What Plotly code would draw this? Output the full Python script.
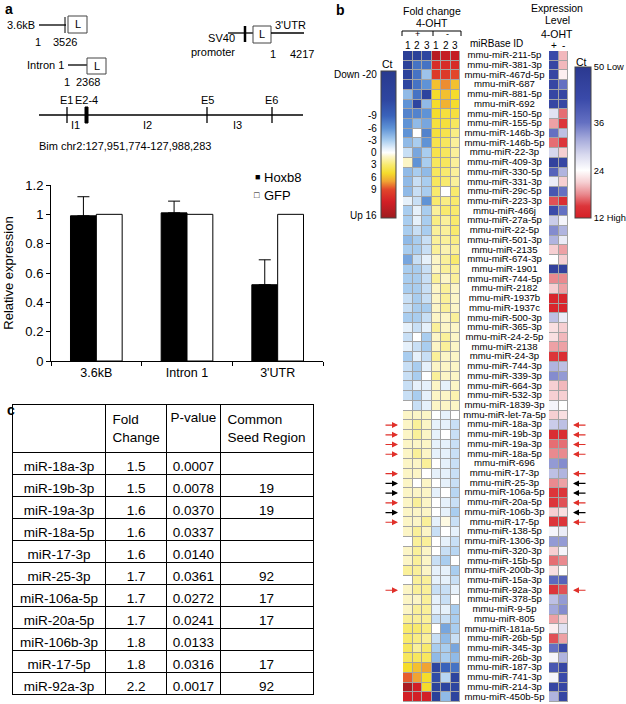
import plotly.graph_objects as go

W, H = 626, 704
FONT = 'Liberation Sans, Arial, sans-serif'

# ---- panel a: luciferase reporter assay ----
constructs = ['3.6kB', 'Intron 1', "3'UTR"]
hoxb8 = [0.99, 1.01, 0.52]
hoxb8_err = [0.13, 0.08, 0.17]
gfp = [1.0, 1.0, 1.0]
exon_labels = ['E1', 'E2-4', 'E5', 'E6']
intron_labels = ['I1', 'I2', 'I3']

# ---- panel b: miRNA array ----
mirna_ids = [
    'mmu-miR-211-5p', 'mmu-miR-381-3p', 'mmu-miR-467d-5p', 'mmu-miR-687', 'mmu-miR-881-5p',
    'mmu-miR-692', 'mmu-miR-150-5p', 'mmu-miR-155-5p', 'mmu-miR-146b-3p', 'mmu-miR-146b-5p',
    'mmu-miR-22-3p', 'mmu-miR-409-3p', 'mmu-miR-330-5p', 'mmu-miR-331-3p', 'mmu-miR-29c-5p',
    'mmu-miR-223-3p', 'mmu-miR-466j', 'mmu-miR-27a-5p', 'mmu-miR-22-5p', 'mmu-miR-501-3p',
    'mmu-miR-2135', 'mmu-miR-674-3p', 'mmu-miR-1901', 'mmu-miR-744-5p', 'mmu-miR-2182',
    'mmu-miR-1937b', 'mmu-miR-1937c', 'mmu-miR-500-3p', 'mmu-miR-365-3p', 'mmu-miR-24-2-5p',
    'mmu-miR-2138', 'mmu-miR-24-3p', 'mmu-miR-744-3p', 'mmu-miR-339-3p', 'mmu-miR-664-3p',
    'mmu-miR-532-3p', 'mmu-miR-1839-3p', 'mmu-miR-let-7a-5p', 'mmu-miR-18a-3p', 'mmu-miR-19b-3p',
    'mmu-miR-19a-3p', 'mmu-miR-18a-5p', 'mmu-miR-696', 'mmu-miR-17-3p', 'mmu-miR-25-3p',
    'mmu-miR-106a-5p', 'mmu-miR-20a-5p', 'mmu-miR-106b-3p', 'mmu-miR-17-5p', 'mmu-miR-138-5p',
    'mmu-miR-1306-3p', 'mmu-miR-320-3p', 'mmu-miR-15b-5p', 'mmu-miR-200b-3p', 'mmu-miR-15a-3p',
    'mmu-miR-92a-3p', 'mmu-miR-378-5p', 'mmu-miR-9-5p', 'mmu-miR-805', 'mmu-miR-181a-5p',
    'mmu-miR-26b-5p', 'mmu-miR-345-3p', 'mmu-miR-26b-3p', 'mmu-miR-187-3p', 'mmu-miR-741-3p',
    'mmu-miR-214-3p', 'mmu-miR-450b-5p',
]
# fold change (Ct), columns: +1 +2 +3 -1 -2 -3
fold_change = [
    [-17, -16, -13, 14, 13, 13], [-16, -8, -8, 11, 11, 11], [-15, -8, -3.5, 10, 10, 9],
    [-13, -8, -6, 6, 7.5, 6], [-4, -8, -14, 5, 6, 5], [-6, -13, -4, 5, 6.5, 5],
    [-7, -7, -6, 5, 4.5, 4.5], [-6, -4, -5, 4.5, 4.5, 3.5], [-6, 0, -7, 4.5, 4, 2.5],
    [-4, -3, -6, 4, 3.5, 2], [-2, -5, -3, 4, 3.5, 2], [1, -6, -3, 3.5, 3.5, 2],
    [-4, -3, -4, 3.5, 3, 2], [-4, -2, -3, 3.5, 3, 2], [-4, -2, -3, 3, 0, 3],
    [-1, -2, -6, 3, 2.5, 3], [-3, -1, -3, 2, 3, 3], [-3, -1, -3, 2.5, 2, 3],
    [-3, -2, -3, 2, 2, 3], [-4, -3, -2, 2, 2, 2.5], [-3, -3, -2, 2, 1.5, 2],
    [-5, -2, -1, 1, 2, 3], [-3, -3, -2, 1, 2, 2], [-3, -3, -2, 2, 1, 2],
    [-3, -3, -2, 1, 2, 1], [-2, -3, -2, 1, 2, 1], [-2, -3, -3, 1, 2, 1],
    [-3, -3, -2, 1, 1, 2], [-1, -2, -1, 2, 1, 1], [-2, 0, -3, 1, 2, 1],
    [-1, -2, -3, 1, 2, 1], [-3, -1, -2, 2, 1, 1], [-2, -3, -1, 1, 1, 1],
    [-2, -3, 0, 2, 1, 1], [-2, -1, -1, 1, -1, 1], [-2, -3, -1, 1, 1, 1.5],
    [0, -2, -1, 1, 1, 1], [1, 1, 1, 0, -1, 0], [1, 2, 1, -1, -1, -2],
    [1, 2, 1, -1, 0, -2], [1, 1, 1, -1, -1, -2], [1, 2, 1, -1, -1, -2],
    [1, 1, 2, 0, -1, -2], [1, 1, 0, -1, -1, -2], [1, 0, 1, 0, -1, -2],
    [1, 1, 1, -1, 0, -2.5], [1, 2, 1, 0, -1, -2], [1, 1, 1, 0, -1, -3],
    [1, 1, 2, -1, 0.5, -2], [1, 2, 1, -2, 0, -1], [0, 2, 2, 0, -1, -2],
    [1, 2, 1, 0, -2, -2.5], [1, 2, 1, -2, -3, 0], [2, 2, 1, -1, -1, -3],
    [0, 2, 2, -1, -1, -2], [1, 2, 2, -2, -2, -1], [1, 1, 2, -1, -2, 0],
    [1, 2, 2, -1, -1, -3], [2, 2, 2, -2, -2, -3], [3, 3, 2.5, 0, -5, -3],
    [3, 2.5, 2, -2, -4, -2], [3.5, 2, 3, -3, -3, -5], [3.5, 3.5, 3.5, -4, -3, -4],
    [5, 6, 7, -13, -9, -8], [8.5, 7, 5, -12, -2.5, -14], [15, 12, 5, -15, -13, -13],
    [12, 12, 12, -16, -4, -14],
]
# expression level (Ct), columns: + -
expression = [
    [42, 20], [44, 20], [44, 23], [44, 36], [44, 44], [44, 44], [27, 17], [19, 15],
    [36, 30], [17, 15], [28, 21], [46, 44], [38, 31], [26, 21], [40, 36], [16, 14],
    [42, 36], [29, 25], [34, 31], [31, 26], [21, 19], [24, 21], [46, 46], [18, 18],
    [21, 19], [13, 13], [13, 13], [30, 26], [22, 21], [22, 20], [19, 19], [15, 14],
    [31, 30], [34, 33], [21, 20], [21, 21], [25, 24], [21, 22], [29, 30], [14, 14],
    [17, 17], [18, 18], [33, 34], [30, 31], [18, 19], [15, 15], [15, 16], [21, 22],
    [15, 15], [25, 26], [33, 33], [21, 25], [17, 18], [22, 24], [37, 38], [15, 16],
    [30, 33], [32, 34], [19, 21], [23, 27], [16, 19], [36, 42], [25, 31], [40, 44],
    [25, 42], [44, 44], [31, 44],
]
red_arrows = ['mmu-miR-18a-3p', 'mmu-miR-19b-3p', 'mmu-miR-19a-3p', 'mmu-miR-18a-5p',
              'mmu-miR-17-3p', 'mmu-miR-20a-5p', 'mmu-miR-17-5p', 'mmu-miR-92a-3p']
black_arrows = ['mmu-miR-25-3p', 'mmu-miR-106a-5p', 'mmu-miR-106b-3p']
fc_columns = ['1', '2', '3', '1', '2', '3']
expr_columns = ['+', '-']
fc_ticks = [-9, -6, -3, 0, 3, 6, 9]
ct_ticks = [50, 36, 24, 12]
ct_text = ['50 Low', '36', '24', '12 High']

# ---- panel c: table ----
table_mirs = ['miR-18a-3p', 'miR-19b-3p', 'miR-19a-3p', 'miR-18a-5p', 'miR-17-3p', 'miR-25-3p',
              'miR-106a-5p', 'miR-20a-5p', 'miR-106b-3p', 'miR-17-5p', 'miR-92a-3p']
table_fold = [1.5, 1.5, 1.6, 1.6, 1.6, 1.7, 1.7, 1.7, 1.8, 1.8, 2.2]
table_pval = ['0.0007', '0.0078', '0.0370', '0.0337', '0.0140', '0.0361', '0.0272', '0.0241',
              '0.0133', '0.0316', '0.0017']
table_seed = ['', '19', '19', '', '', '92', '17', '17', '', '17', '92']

fc_min, fc_max = -20, 16
fc_stops = [(-20, '#283a8f'), (-13, '#2e46a0'), (-9, '#3a63bb'), (-6, '#5f93d6'), (-3, '#a9cdef'),
            (-1, '#e6f1fb'), (0, '#ffffff'), (1, '#fcf5c6'), (3, '#f8ea6e'), (5, '#f5dc2c'),
            (7, '#f0a433'), (9, '#e2472b'), (12, '#d21f26'), (16, '#9e1b1f')]
fc_scale = [[(v - fc_min) / (fc_max - fc_min), c] for v, c in fc_stops]
fc_scale_rev = [[1 - f, c] for f, c in reversed(fc_scale)]
ct_min, ct_max = 12, 50
ct_stops = [(12, '#d61f26'), (15, '#dc353a'), (18, '#e98a8f'), (21, '#f6cfd2'), (24, '#ffffff'),
            (28, '#d7d8ee'), (32, '#a3a8da'), (36, '#6470c2'), (42, '#3a4aa9'), (50, '#2b3990')]
ct_scale = [[(v - ct_min) / (ct_max - ct_min), c] for v, c in ct_stops]


def px(x):
    return x / W


def py(y):
    return 1 - y / H


shapes = []
annotations = []


def seg(x0, y0, x1, y1, w=1.3, color='black'):
    shapes.append(dict(type='line', xref='paper', yref='paper', x0=px(x0), y0=py(y0),
                       x1=px(x1), y1=py(y1), line=dict(color=color, width=w)))


def box(x0, y0, x1, y1, fill='white', lc='#444'):
    shapes.append(dict(type='rect', xref='paper', yref='paper', x0=px(x0), y0=py(y0),
                       x1=px(x1), y1=py(y1), fillcolor=fill, line=dict(color=lc, width=1)))


def label(x, y, text, size=11, anchor='center', bold=False, xref='paper'):
    if bold:
        text = '<b>' + text + '</b>'
    annotations.append(dict(xref=xref, yref='paper', x=px(x) if xref == 'paper' else x, y=py(y), text=text,
                            showarrow=False, xanchor=anchor, yanchor='middle',
                            font=dict(size=size, color='black', family=FONT)))


fig = go.Figure()

# bar chart
fig.add_trace(go.Bar(x=constructs, y=hoxb8, name='Hoxb8', marker=dict(color='black', line=dict(color='black', width=1)),
                     error_y=dict(type='data', array=hoxb8_err, arrayminus=[0, 0, 0], symmetric=False,
                                  color='black', thickness=1, width=6)))
fig.add_trace(go.Bar(x=constructs, y=gfp, name='GFP', marker=dict(color='white', line=dict(color='black', width=1))))

# fold change heatmap
rows = list(range(len(mirna_ids)))
fig.add_trace(go.Heatmap(z=fold_change, x=list(range(6)), y=rows, colorscale=fc_scale, zmin=fc_min, zmax=fc_max,
                         xgap=1, ygap=1, showscale=False, xaxis='x3', yaxis='y3'))
# colorbar for fold change (top = down)
fig.add_trace(go.Scatter(x=[0], y=[0], mode='markers', xaxis='x3', yaxis='y3', hoverinfo='skip',
                         marker=dict(color=[0], colorscale=fc_scale_rev, cmin=-fc_max, cmax=-fc_min, opacity=0,
                                     showscale=True,
                                     colorbar=dict(x=px(381), xanchor='left', y=py(71), yanchor='top',
                                                   len=147, lenmode='pixels', thickness=15, xpad=0, ypad=0,
                                                   showticklabels=False, ticks='', outlinewidth=1,
                                                   outlinecolor='#444')),
                         showlegend=False))
# labels
fig.add_trace(go.Scatter(x=[0.5] * len(mirna_ids), y=rows, text=mirna_ids, mode='text', xaxis='x4', yaxis='y3',
                         textfont=dict(size=9.6, family=FONT, color='black'), hoverinfo='skip', showlegend=False))
# expression heatmap
fig.add_trace(go.Heatmap(z=expression, x=[0, 1], y=rows, colorscale=ct_scale, zmin=ct_min, zmax=ct_max,
                         xgap=1, ygap=1, xaxis='x5', yaxis='y3',
                         colorbar=dict(x=px(575), xanchor='left', y=py(67), yanchor='top', len=151,
                                       lenmode='pixels', thickness=16, xpad=0, ypad=0, tickvals=ct_ticks,
                                       ticktext=ct_text, ticks='', tickfont=dict(size=9.3, family=FONT),
                                       outlinewidth=1, outlinecolor='#444')))

# table
fig.add_trace(go.Table(
    domain=dict(x=[px(12), px(313)], y=[0, py(404)]),
    columnwidth=[93, 60, 53, 92],
    header=dict(values=['', 'Fold<br>Change', 'P-value', 'Common<br>Seed Region'], height=40,
                align='center', fill_color='white', line=dict(color='black', width=1),
                font=dict(family=FONT, size=13.5, color='black')),
    cells=dict(values=[table_mirs, table_fold, table_pval, table_seed], height=22, format=['', '.1f', '', ''],
               align='center', fill_color='white', line=dict(color='black', width=1),
               font=dict(family=FONT, size=13.5, color='black')),
))

# heatmap cell borders
for xr in ['x3', 'x5']:
    shapes.append(dict(type='rect', xref=xr + ' domain', yref='y3 domain', x0=0, x1=1, y0=0, y1=1,
                       fillcolor='#a4a4a4', line=dict(width=0), layer='below'))

# gene diagram (panel a)
label(37, 25, '3.6kB', anchor='right')
seg(39, 25, 66, 25)
seg(65, 17, 65, 33, w=1)
box(68, 16, 87, 33)
label(77.5, 24.5, 'L')
label(38, 42, '1')
label(65, 42, '3526')
label(66, 65, 'Intron 1', anchor='right')
seg(68, 65, 87, 65)
box(87, 58, 106, 74)
label(96.5, 66, 'L')
label(67, 82, '1')
label(88, 82, '2368')
seg(228, 33, 253, 33)
seg(245, 26, 245, 42, w=2.5)
box(253, 26, 271, 43)
label(262, 34.5, 'L')
seg(271, 33, 304, 33)
label(290, 25, "3'UTR")
annotations.append(dict(xref='paper', yref='paper', x=px(237), y=py(45), text='SV40<br>promoter',
                        showarrow=False, xanchor='right', yanchor='middle', align='right',
                        font=dict(size=11, color='black', family=FONT)))
label(273, 54, '1')
label(302, 54, '4217')
seg(39, 115, 303, 115)
for xe in [67, 207, 272]:
    seg(xe, 107, xe, 123)
box(85, 107, 88, 123, fill='black', lc='black')
for xe, t in zip([66, 86, 207, 271], exon_labels):
    label(xe, 100, t)
for xi, t in zip([75, 147, 237], intron_labels):
    label(xi, 125, t)
label(125, 146, 'Bim chr2:127,951,774-127,988,283')

# bar legend
label(257, 177, '■', size=9)
label(262, 177, 'Hoxb8', size=13, anchor='left')
label(257, 195, '□', size=9)
label(262, 195, 'GFP', size=13, anchor='left')

# panel letters
label(3, 9, 'a', size=14, anchor='left', bold=True)
label(334, 10, 'b', size=14, anchor='left', bold=True)
label(5, 410, 'c', size=14, anchor='left', bold=True)

# panel b headers
label(432, 11, 'Fold change', size=10.5)
label(432, 23, '4-OHT', size=10.5)
seg(402, 31, 461, 31, w=1)
for xb in [402, 433, 461]:
    seg(xb, 31, xb, 36, w=1)
label(417, 34.5, '+', size=9)
label(447, 34, '-', size=9)
for i, t in enumerate(fc_columns):
    label(i, 45.5, t, size=10, xref='x3')
for i, t in enumerate(expr_columns):
    label(i, 45.5, t, size=10, xref='x5')
label(496, 43.5, 'miRBase ID', size=10)
label(557, 8, 'Expression', size=10.5)
label(557, 20, 'Level', size=10.5)
label(557, 34, '4-OHT', size=10.5)
label(387, 64, 'Ct', size=10.5)
label(581, 62, 'Ct', size=10.5)
label(379, 74, 'Down -20', size=10, anchor='right')
label(379, 215, 'Up 16', size=10, anchor='right')
for v in fc_ticks:
    label(379, 71 + (v - fc_min) / (fc_max - fc_min) * 147, str(v), size=10, anchor='right')

# arrows
for name in red_arrows + black_arrows:
    color = '#e0302a' if name in red_arrows else 'black'
    r = mirna_ids.index(name)
    annotations.append(dict(xref='paper', yref='y3', x=px(398), y=r, ax=-14, ay=0, text='', showarrow=True,
                            arrowhead=2, arrowsize=1, arrowwidth=1.2, arrowcolor=color))
    annotations.append(dict(xref='paper', yref='y3', x=px(573), y=r, ax=14, ay=0, text='', showarrow=True,
                            arrowhead=2, arrowsize=1, arrowwidth=1.2, arrowcolor=color))

axis_off = dict(visible=False, showgrid=False, zeroline=False)
fig.update_layout(
    width=W, height=H, margin=dict(l=0, r=0, t=0, b=0, autoexpand=False),
    paper_bgcolor='white', plot_bgcolor='white',
    font=dict(family=FONT, color='black'),
    showlegend=False, barmode='group', bargap=0.43, bargroupgap=0,
    shapes=shapes, annotations=annotations,
    xaxis=dict(domain=[px(51), px(323)], anchor='y', showline=True, linecolor='black', linewidth=1,
               ticks='outside', tickson='boundaries', ticklen=4, tickcolor='black',
               tickfont=dict(size=12.5, family=FONT)),
    yaxis=dict(domain=[py(361), py(185)], anchor='x', range=[0, 1.2], tickvals=[0, 0.2, 0.4, 0.6, 0.8, 1, 1.2],
               ticktext=['0', '0.2', '0.4', '0.6', '0.8', '1', '1.2'], showline=True, linecolor='black',
               ticks='outside', ticklen=4, tickcolor='black', showgrid=False, zeroline=False,
               tickfont=dict(size=13, family=FONT),
               title=dict(text='Relative expression', font=dict(size=13, family=FONT), standoff=8)),
    xaxis3=dict(domain=[px(403), px(460)], anchor='y3', range=[-0.5, 5.5], **axis_off),
    yaxis3=dict(domain=[py(702), py(51)], anchor='x3', range=[len(mirna_ids) - 0.5, -0.5], **axis_off),
    xaxis4=dict(domain=[px(462), px(547)], anchor='y3', range=[0, 1], **axis_off),
    xaxis5=dict(domain=[px(549), px(568)], anchor='y3', range=[-0.5, 1.5], **axis_off),
)

fig.write_html('out.html', config={'displayModeBar': False},
               post_script="document.body.style.margin='0';")
